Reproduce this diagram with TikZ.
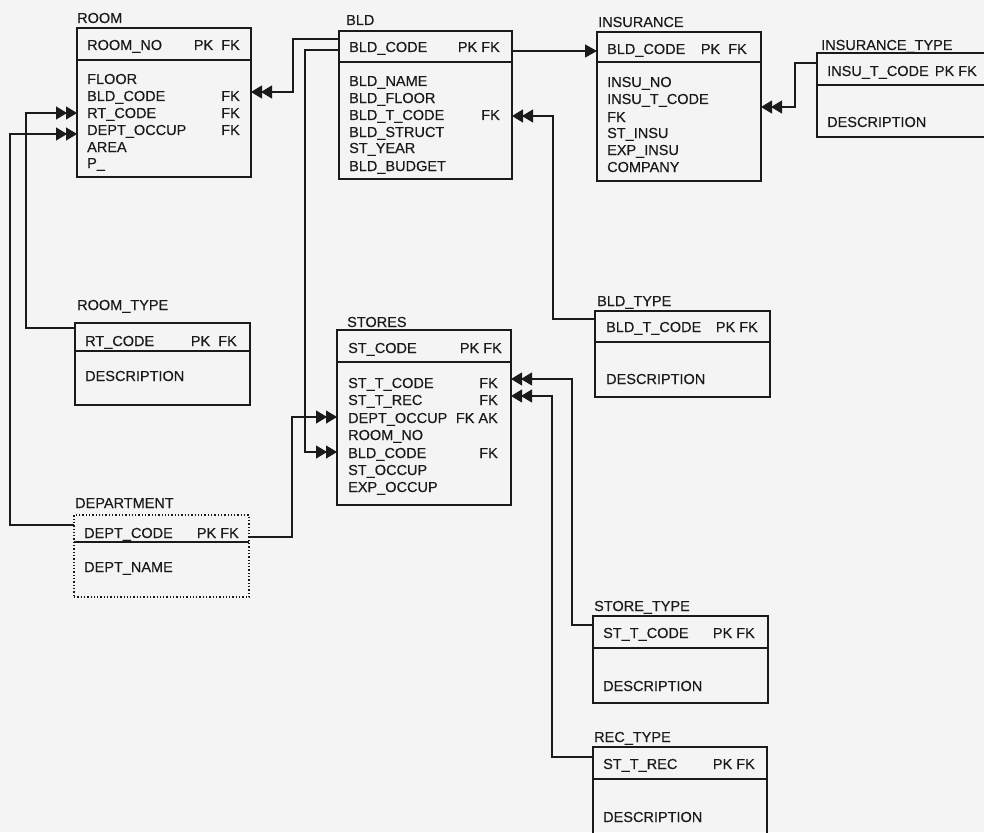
\documentclass[tikz,border=0pt]{standalone}
\usepackage{fontspec}
\setmainfont{Liberation Sans}
\newfontfamily\diafont[FakeBold=0.35]{Liberation Sans}
\usetikzlibrary{arrows.meta}
\definecolor{ink}{HTML}{1A1A1A}
\definecolor{paper}{HTML}{F4F4F4}
\tikzset{
  box/.style={draw=ink, line width=1.3pt, inner sep=0pt, outer sep=0pt, anchor=north west},
  dotbox/.style={box, dotted, line width=1.2pt},
  txt/.style={anchor=base west, inner sep=0pt, text=ink, font=\diafont\fontsize{14.5}{16}\selectfont},
  keyt/.style={anchor=base east, inner sep=0pt, text=ink, font=\diafont\fontsize{14.5}{16}\selectfont},
  sep/.style={draw=ink, line width=1.3pt},
  link/.style={draw=ink, line width=1.2pt},
  dbl/.style={link, -{Triangle[length=11pt,width=13pt,sep=-1pt]Triangle[length=11pt,width=13pt]}},
  sgl/.style={link, -{Triangle[length=12pt,width=13pt]}}
}
\newcommand\mkbox[6][box]{\node[#1, minimum width={#5-#3}, minimum height={#6-#4}] (#2) at (#3,#4) {};}
\newcommand\ft[4]{\node[txt] (#1) at (#2,#3+5) {#4};}
\newcommand\fk[4]{\node[keyt] (#1) at (#2,#3+5) {#4};}
\newcommand\hsep[2]{\draw[sep] (#1.west |- 0,#2) -- (#1.east |- 0,#2);}
\begin{document}
\begin{tikzpicture}[x=1pt,y=-1pt]
\useasboundingbox (0,0) rectangle (984,832);
\clip (0,0) rectangle (984,832);
\fill[paper] (0,0) rectangle (984,832);

% ROOM
\ft{roomt}{77}{18}{ROOM}
\mkbox{room}{77}{28}{251}{177}
\hsep{room}{60}
\ft{room1}{87}{45}{ROOM\_NO}
\fk{room1k}{240}{45}{PK~~FK}
\ft{room2}{87}{79}{FLOOR}
\ft{room3}{87}{96}{BLD\_CODE}
\fk{room3k}{240}{96}{FK}
\ft{room4}{87}{113}{RT\_CODE}
\fk{room4k}{240}{113}{FK}
\ft{room5}{87}{130}{DEPT\_OCCUP}
\fk{room5k}{240}{130}{FK}
\ft{room6}{87}{147}{AREA}
\ft{room7}{87}{163}{P\_}

% BLD
\ft{bldt}{346}{20}{BLD}
\mkbox{bld}{339}{31}{512}{179}
\hsep{bld}{62}
\ft{bld1}{349}{47}{BLD\_CODE}
\fk{bld1k}{500}{47}{PK FK}
\ft{bld2}{349}{81}{BLD\_NAME}
\ft{bld3}{349}{98}{BLD\_FLOOR}
\ft{bld4}{349}{115}{BLD\_T\_CODE}
\fk{bld4k}{500}{115}{FK}
\ft{bld5}{349}{132}{BLD\_STRUCT}
\ft{bld6}{349}{148}{ST\_YEAR}
\ft{bld7}{349}{166}{BLD\_BUDGET}

% INSURANCE
\ft{inst}{598}{22}{INSURANCE}
\mkbox{ins}{597}{32}{761}{181}
\hsep{ins}{62}
\ft{ins1}{607}{49}{BLD\_CODE}
\fk{ins1k}{747}{49}{PK~~FK}
\ft{ins2}{607}{82}{INSU\_NO}
\ft{ins3}{607}{99}{INSU\_T\_CODE}
\ft{ins4}{607}{117}{FK}
\ft{ins5}{607}{133}{ST\_INSU}
\ft{ins6}{607}{150}{EXP\_INSU}
\ft{ins7}{607}{167}{COMPANY}

% INSURANCE_TYPE
\ft{itt}{821}{45}{INSURANCE\_TYPE}
\mkbox{it}{817}{53}{1000}{137}
\hsep{it}{85}
\ft{it1}{827}{71}{INSU\_T\_CODE}
\fk{it1k}{977}{71}{PK FK}
\ft{it2}{827}{122}{DESCRIPTION}

% ROOM_TYPE
\ft{rtt}{77}{305}{ROOM\_TYPE}
\mkbox{rt}{75}{323}{250}{405}
\hsep{rt}{351}
\ft{rt1}{85}{341}{RT\_CODE}
\fk{rt1k}{237}{341}{PK~~FK}
\ft{rt2}{85}{376}{DESCRIPTION}

% DEPARTMENT
\ft{dpt}{75}{503}{DEPARTMENT}
\mkbox[dotbox]{dp}{74}{515}{249}{597}
\hsep{dp}{542}
\ft{dp1}{84}{533}{DEPT\_CODE}
\fk{dp1k}{239}{533}{PK FK}
\ft{dp2}{84}{567}{DEPT\_NAME}

% STORES
\ft{stt}{347}{322}{STORES}
\mkbox{st}{337}{330}{511}{505}
\hsep{st}{362}
\ft{st1}{348}{348}{ST\_CODE}
\fk{st1k}{502}{348}{PK FK}
\ft{st2}{348}{383}{ST\_T\_CODE}
\fk{st2k}{498}{383}{FK}
\ft{st3}{348}{400}{ST\_T\_REC}
\fk{st3k}{498}{400}{FK}
\ft{st4}{348}{418}{DEPT\_OCCUP}
\fk{st4k}{498}{418}{FK AK}
\ft{st5}{348}{435}{ROOM\_NO}
\ft{st6}{348}{453}{BLD\_CODE}
\fk{st6k}{498}{453}{FK}
\ft{st7}{348}{470}{ST\_OCCUP}
\ft{st8}{348}{487}{EXP\_OCCUP}

% BLD_TYPE
\ft{btt}{597}{301}{BLD\_TYPE}
\mkbox{bt}{595}{311}{770}{397}
\hsep{bt}{342}
\ft{bt1}{606}{327}{BLD\_T\_CODE}
\fk{bt1k}{758}{327}{PK FK}
\ft{bt2}{606}{379}{DESCRIPTION}

% STORE_TYPE
\ft{sytt}{594}{606}{STORE\_TYPE}
\mkbox{syt}{593}{616}{768}{703}
\hsep{syt}{648}
\ft{syt1}{603}{633}{ST\_T\_CODE}
\fk{syt1k}{755}{633}{PK FK}
\ft{syt2}{603}{686}{DESCRIPTION}

% REC_TYPE
\ft{rctt}{594}{737}{REC\_TYPE}
\mkbox{rct}{593}{747}{767}{860}
\hsep{rct}{779}
\ft{rct1}{603}{764}{ST\_T\_REC}
\fk{rct1k}{755}{764}{PK FK}
\ft{rct2}{603}{817}{DESCRIPTION}

% connectors
\draw[dbl] (bld.west |- 0,39) -- (293,39) -- (293,92) -- (room.east |- 0,92);
\draw[dbl] (bld.west |- 0,50) -- (305,50) -- (305,452) -- (st.west |- 0,452);
\draw[sgl] (bld.east |- 0,51) -- (ins.west |- 0,51);
\draw[dbl] (it.west |- 0,63) -- (795,63) -- (795,107) -- (ins.east |- 0,107);
\draw[dbl] (bt.west |- 0,319) -- (553,319) -- (553,116) -- (bld.east |- 0,116);
\draw[dbl] (rt.west |- 0,328) -- (26,328) -- (26,113) -- (room.west |- 0,113);
\draw[dbl] (dp.west |- 0,525) -- (10,525) -- (10,134) -- (room.west |- 0,134);
\draw[dbl] (dp.east |- 0,537) -- (292,537) -- (292,417) -- (st.west |- 0,417);
\draw[dbl] (syt.west |- 0,625) -- (572,625) -- (572,379) -- (st.east |- 0,379);
\draw[dbl] (rct.west |- 0,757) -- (552,757) -- (552,396) -- (st.east |- 0,396);
\end{tikzpicture}
\end{document}
